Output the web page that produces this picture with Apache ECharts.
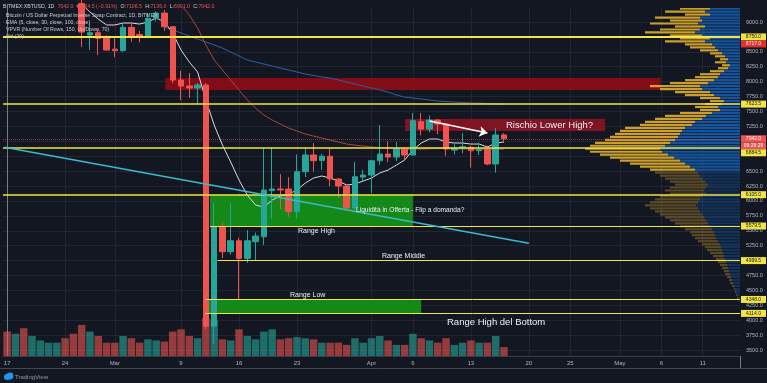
<!DOCTYPE html>
<html>
<head>
<meta charset="utf-8">
<script src="https://cdn.jsdelivr.net/npm/echarts@6.0.0/dist/echarts.min.js"></script>
<style>
html, body { margin: 0; padding: 0; background: #131722; }
#chart { width: 767px; height: 383px; }
</style>
</head>
<body>
<div id="chart"></div>
<script>
// giorni contati dal 17 feb 2020 (giorno 0)
const tickDays = [0, 7, 13, 21, 28, 35, 44, 49, 56, 63, 68, 74, 79, 84];
const tickLabels = ['17', '24', 'Mar', '9', '16', '23', 'Apr', '6', '13', '20', '25', 'May', '6', '11'];

const priceTicks = [3500, 3750, 4000, 4250, 4500, 4750, 5000, 5250, 5500, 5750, 6000, 6250, 6500, 6750, 7000, 7250, 7500, 7750, 8000, 8250, 8500, 8750, 9000];
const priceLabels = [3500, 3750, 4000, 4250, 4500, 4750, 5250, 5500, 5750, 6000, 6250, 6500, 7250, 7500, 7750, 8000, 8250, 8500, 9000];

// candele dal 26 feb: [open, close, low, high]
const firstCandleDay = 9;
const candles = [
    [9310, 8832, 8580, 9380], [8782, 8820, 8530, 8980], [8820, 8727, 8447, 8880], [8727, 8530, 8520, 8780],
    [8545, 8520, 8410, 8750], [8520, 8911, 8500, 8978], [8911, 8754, 8670, 8990], [8790, 8765, 8660, 8850],
    [8765, 9062, 8740, 9150], [9062, 9150, 9010, 9180], [9150, 8921, 8850, 9200], [8921, 8027, 7975, 8930],
    [8027, 7927, 7690, 8180], [7927, 7893, 7725, 8145], [7893, 7944, 7608, 7980], [7944, 3900, 3850, 7980],
    [3900, 5567, 3600, 5970], [5567, 5148, 5042, 5640], [5148, 5332, 5100, 5964], [5332, 5037, 4338, 5380],
    [5037, 5332, 4960, 5512], [5316, 5411, 5009, 5470], [5400, 6183, 5260, 6887], [6175, 6200, 5700, 6900],
    [6200, 6185, 5860, 6450], [6200, 5820, 5735, 6400], [5820, 6490, 5700, 6780], [6490, 6770, 6400, 6887],
    [6770, 6675, 6490, 6970], [6680, 6750, 6520, 6790], [6750, 6367, 6250, 6880], [6367, 6250, 6048, 6380],
    [6250, 5880, 5860, 6270], [5880, 6406, 5860, 6657], [6400, 6434, 6330, 6520], [6434, 6674, 6132, 6690],
    [6674, 6786, 6600, 7273], [6786, 6736, 6650, 7000], [6736, 6870, 6670, 6990], [6870, 6770, 6680, 6880],
    [6770, 7345, 6770, 7474], [7328, 7206, 7100, 7474], [7206, 7356, 7150, 7430], [7356, 7290, 7120, 7370],
    [7290, 6870, 6750, 7300], [6853, 6887, 6780, 6950], [6887, 6910, 6800, 7140], [6900, 6843, 6560, 6920],
    [6843, 6860, 6770, 6980], [6870, 6620, 6600, 6930], [6620, 7105, 6473, 7222], [7106.5, 7042, 6991, 7136]
];

// volumi dal 17 feb (unita arbitrarie), 1 = barra verde
const volumes = [22, 20, 25, 18, 14, 12, 12, 16, 20, 28, 22, 18, 12, 12, 18, 16, 12, 15, 14, 13, 22, 24, 18, 16, 34, 32,
    15, 14, 24, 18, 15, 22, 24, 15, 16, 17, 16, 15, 12, 12, 12, 10, 16, 12, 16, 18, 14, 10, 10, 20, 16, 14, 12, 16, 10,
    12, 14, 12, 12, 18, 8];
const volumeUp = [0, 1, 0, 1, 1, 1, 1, 0, 0, 0, 1, 0, 0, 0, 1, 0, 0, 1, 1, 0, 0, 0, 0, 1, 0, 1,
    0, 1, 0, 1, 1, 1, 1, 0, 0, 1, 1, 0, 1, 0, 0, 0, 1, 1, 1, 1, 0, 1, 0, 1, 0, 1, 0, 0, 1,
    1, 0, 1, 0, 1, 0];

// medie mobili
const ema5Start = 9;
const ema5 = [9300, 9168, 9050, 8950, 8950, 8983, 8983, 8966, 9000, 9067, 9000, 8816, 8530, 8329, 8162, 7692, 7273,
    6937, 6652, 6350, 6099, 5931, 5898, 6015, 6082, 6116, 6183, 6300, 6384, 6418, 6384, 6334, 6267, 6283, 6334,
    6384, 6468, 6518, 6602, 6686, 6853, 6971, 7038, 7038, 6988, 6971, 6971, 6954, 6954, 6904, 6971, 6988];
const ema30Start = 20;
const ema30 = [9450, 9285, 9117, 8899, 8614, 8363, 8195, 8027, 7860, 7692, 7558, 7440, 7357, 7289, 7222, 7172, 7122,
    7088, 7055, 7021, 6988, 6954, 6937, 6920, 6904, 6895, 6887, 6878, 6870, 6868, 6870, 6875, 6880, 6878, 6875,
    6872, 6870, 6868, 6862, 6866, 6870];
const ema100Start = 19;
const ema100 = [8916, 8866, 8816, 8765, 8715, 8665, 8614, 8564, 8497, 8430, 8363, 8329, 8296, 8262, 8229, 8195, 8162,
    8128, 8103, 8078, 8061, 8027, 7994, 7960, 7927, 7893, 7860, 7826, 7776, 7742, 7725, 7709, 7692, 7675, 7667,
    7658, 7650, 7642, 7640, 7633, 7625, 7625];

// profilo volumi (VPVR): righe da 50 dall'alto, volume up / down
const vpTop = 9250;
const vpStep = 50;
const valueAreaLow = 6500;
const vpUp = [30, 35, 30, 40, 38, 42, 35, 40, 45, 38, 30, 35, 28, 25, 22, 18, 15, 12, 14, 10, 12, 16, 20, 22, 26, 32,
    40, 38, 30, 26, 20, 16, 18, 22, 20, 28, 34, 38, 45, 48, 55, 58, 60, 62, 65, 70, 75, 80, 78, 72, 66, 60, 55, 50,
    45, 42, 40, 38, 35, 32, 34, 36, 34, 38, 40, 42, 44, 42, 40, 38, 36, 34, 32, 30, 28, 26, 25, 24, 22, 20, 19, 18,
    17, 16, 15, 14, 13, 12, 11, 10, 9, 8, 7, 6, 5, 4, 3, 2, 2];
const vpDown = [30, 40, 25, 45, 32, 48, 30, 40, 50, 32, 30, 40, 27, 25, 18, 12, 10, 8, 11, 8, 10, 14, 20, 23, 29, 38,
    50, 42, 35, 29, 20, 14, 17, 23, 20, 32, 41, 47, 50, 52, 60, 62, 65, 68, 70, 75, 75, 75, 72, 68, 64, 60, 55, 50,
    45, 43, 40, 37, 35, 33, 36, 39, 36, 42, 45, 48, 51, 48, 45, 42, 39, 36, 33, 30, 27, 24, 23, 21, 20, 18, 16, 15,
    13, 11, 9, 8, 7, 6, 5, 5, 4, 3, 3, 2, 1, 1, 1, 1, 0];

// livelli orizzontali disegnati
const levels = [
    { price: 8750, from: null, width: 2 },
    { price: 7623.5, from: null, width: 1.5 },
    { price: 6884.5, from: null, width: 1.5 },
    { price: 6105, from: null, width: 1.5 },
    { price: 5579.5, from: 24.5, width: 1 },
    { price: 4999.5, from: 25.4, width: 1 },
    { price: 4348, from: 23.9, width: 1 },
    { price: 4114, from: 23.9, width: 1 }
];

const UP = '#26a69a', DOWN = '#ef5350', YELLOW = '#f2e442';
const FONT = 'Liberation Sans, Arial, sans-serif';

const chart = echarts.init(document.getElementById('chart'));

const lastDay = 88.5;
const markLines = [];
levels.forEach(l => {
    const style = { color: YELLOW, width: l.width, type: 'solid' };
    if (l.from == null) markLines.push({ yAxis: l.price, lineStyle: style });
    else markLines.push([{ coord: [l.from, l.price], lineStyle: style }, { coord: [lastDay, l.price] }]);
});
markLines.push({ yAxis: 7042, lineStyle: { color: 'rgba(239,83,80,0.6)', width: 1, type: 'dotted' } });
// trendline
markLines.push([{ coord: [-0.3, 6900], lineStyle: { color: '#3db9cc', width: 1.5, type: 'solid' } }, { coord: [63, 5290] }]);
markLines.push([{ coord: [-0.9, 4400], lineStyle: { color: '#3db9cc', width: 1.5, type: 'solid' } }, { coord: [28.6, 3560] }]);
// freccia
markLines.push([{ coord: [51, 7340], symbol: 'none', lineStyle: { color: '#ffffff', width: 1.5, type: 'solid' } },
    { coord: [58, 7138], symbol: 'arrow', symbolSize: 8 }]);

const boxes = [
    [{ coord: [19.1, 8061], itemStyle: { color: 'rgba(150,12,20,0.85)' } }, { coord: [78.9, 7860] }],
    [{ coord: [48.05, 7373], itemStyle: { color: 'rgba(140,20,34,0.9)' } }, { coord: [72.2, 7172] }],
    [{ coord: [24.5, 6105], itemStyle: { color: 'rgba(22,150,22,0.9)' } }, { coord: [49.0, 5579.5] }],
    [{ coord: [23.9, 4348], itemStyle: { color: 'rgba(22,150,22,0.9)' } }, { coord: [50.0, 4114] }]
];

function renderProfileRow(params, api) {
    const top = api.value(0), up = api.value(1), down = api.value(2);
    const bottom = top - vpStep;
    const pTop = api.coord([0, top]);
    const pBot = api.coord([0, bottom]);
    const xUp = api.coord([up, bottom])[0];
    const xAll = api.coord([up + down, bottom])[0];
    const y = pTop[1] + 0.4, h = pBot[1] - pTop[1] - 0.8;
    const dim = bottom < valueAreaLow;
    return {
        type: 'group',
        children: [
            { type: 'rect', shape: { x: xUp, y: y, width: pTop[0] - xUp, height: h },
              style: { fill: dim ? 'rgba(21,101,192,0.35)' : 'rgba(21,101,192,0.8)' } },
            { type: 'rect', shape: { x: xAll, y: y, width: xUp - xAll, height: h },
              style: { fill: dim ? 'rgba(251,192,45,0.3)' : 'rgba(251,192,45,0.8)' } }
        ]
    };
}

const option = {
    backgroundColor: '#131722',
    animation: false,
    textStyle: { fontFamily: FONT },
    grid: [
        { left: 3, right: 27, top: 8, bottom: 27 },
        { left: 3, right: 27, bottom: 27, height: 40 },
        { left: 560, right: 27, top: 8, bottom: 27 }
    ],
    xAxis: [
        {
            type: 'value', gridIndex: 0, min: -0.5, max: lastDay,
            axisLine: { show: true, onZero: false, lineStyle: { color: '#363a45' } },
            axisTick: { show: false, customValues: tickDays },
            axisLabel: { customValues: tickDays, formatter: v => tickLabels[tickDays.indexOf(v)] || '',
                color: '#b2b5be', fontSize: 6, margin: 4, fontFamily: FONT },
            splitLine: { show: true, lineStyle: { color: '#222633', width: 1 } }
        },
        { type: 'value', gridIndex: 1, min: -0.5, max: lastDay, show: false },
        { type: 'value', gridIndex: 2, min: 0, max: 180, inverse: true, show: false }
    ],
    yAxis: [
        {
            type: 'value', gridIndex: 0, position: 'right', min: 3400, max: 9235, scale: true,
            axisLine: { show: true, lineStyle: { color: '#787b86' } },
            axisTick: { show: false, customValues: priceTicks },
            axisLabel: { customValues: priceLabels, formatter: v => v.toFixed(1), color: '#b2b5be',
                fontSize: 5.5, margin: 6, fontFamily: FONT },
            splitLine: { show: true, lineStyle: { color: '#222633', width: 1 } }
        },
        { type: 'value', gridIndex: 1, min: 0, max: 36, show: false },
        { type: 'value', gridIndex: 2, min: 3400, max: 9235, show: false }
    ],
    series: [
        {
            type: 'bar', xAxisIndex: 1, yAxisIndex: 1, barWidth: 7.5, z: 1,
            data: volumes.map((v, d) => ({ value: [d, v], itemStyle: { color: volumeUp[d] ? 'rgba(38,166,154,0.6)' : 'rgba(239,83,80,0.6)' } }))
        },
        {
            type: 'line', xAxisIndex: 0, yAxisIndex: 0, data: [], z: 1, silent: true,
            markArea: { silent: true, data: boxes }
        },
        {
            type: 'custom', xAxisIndex: 2, yAxisIndex: 2, z: 2, clip: true, silent: true,
            renderItem: renderProfileRow,
            data: vpUp.map((u, i) => [vpTop - i * vpStep, u, vpDown[i]])
        },
        {
            type: 'line', xAxisIndex: 0, yAxisIndex: 0, z: 3, symbol: 'none', clip: true,
            lineStyle: { color: '#2f5fa8', width: 1 },
            data: ema100.map((v, i) => [ema100Start + i, v])
        },
        {
            type: 'line', xAxisIndex: 0, yAxisIndex: 0, z: 3, symbol: 'none', clip: true,
            lineStyle: { color: '#a5493c', width: 1 },
            data: ema30.map((v, i) => [ema30Start + i, v])
        },
        {
            type: 'line', xAxisIndex: 0, yAxisIndex: 0, z: 3, symbol: 'none', clip: true,
            lineStyle: { color: '#d8dbe3', width: 1 },
            data: ema5.map((v, i) => [ema5Start + i, v])
        },
        {
            type: 'candlestick', xAxisIndex: 0, yAxisIndex: 0, z: 4, barWidth: 6, clip: true,
            encode: { x: 0, y: [1, 2, 3, 4] },
            itemStyle: { color: UP, color0: DOWN, borderColor: UP, borderColor0: DOWN, borderWidth: 1 },
            data: candles.map((c, i) => [firstCandleDay + i, c[0], c[1], c[2], c[3]]),
            markLine: { silent: true, symbol: 'none', label: { show: false }, animation: false, data: markLines }
        }
    ]
};
chart.setOption(option);

// etichette prezzo sull'asse destro
const tags = [
    { text: '8750.0', price: 8750, bg: YELLOW, fg: '#131722' },
    { text: '8717.0', price: 8717, bg: '#e0312f', fg: '#ffffff' },
    { text: '7623.5', price: 7623.5, bg: YELLOW, fg: '#131722' },
    { text: '7042.0', price: 7042, bg: '#ef5350', fg: '#ffffff' },
    { text: '09:29:29', price: 7042, bg: '#ef5350', fg: '#ffffff' },
    { text: '6884.5', price: 6884.5, bg: YELLOW, fg: '#131722' },
    { text: '6105.0', price: 6105, bg: YELLOW, fg: '#131722' },
    { text: '5579.5', price: 5579.5, bg: YELLOW, fg: '#131722' },
    { text: '4999.5', price: 4999.5, bg: YELLOW, fg: '#131722' },
    { text: '4348.0', price: 4348, bg: YELLOW, fg: '#131722' },
    { text: '4114.0', price: 4114, bg: YELLOW, fg: '#131722' }
];
const tagH = 7;
const placed = tags.map(t => Object.assign({}, t, { y: chart.convertToPixel({ yAxisIndex: 0 }, t.price) }));
for (let i = 1; i < placed.length; i++) {
    if (placed[i].y - placed[i - 1].y < tagH) placed[i].y = placed[i - 1].y + tagH;
}

const graphics = [];
placed.forEach(t => {
    graphics.push({
        type: 'group', z: 100,
        children: [
            { type: 'rect', shape: { x: 741, y: t.y - tagH / 2, width: 25, height: tagH }, style: { fill: t.bg } },
            { type: 'text', x: 753.5, y: t.y, style: { text: t.text, fill: t.fg, fontSize: 5, fontFamily: FONT,
                align: 'center', verticalAlign: 'middle' } }
        ]
    });
});

// intestazione e legenda
graphics.push({
    type: 'text', left: 3, top: 1, z: 100,
    style: {
        text: '{w|BITMEX:XBTUSD, 1D} {r|7042.0 ▼ −64.5 (−0.91%)} {w|O:}{r|7106.5} {w|H:}{r|7136.0} {w|L:}{r|6991.0} {w|C:}{r|7042.0}',
        fontFamily: FONT,
        rich: { w: { fill: '#d1d4dc', fontSize: 5.2, fontFamily: FONT }, r: { fill: '#ef5350', fontSize: 5.2, fontFamily: FONT } }
    }
});
const legendLines = [
    'Bitcoin / US Dollar Perpetual Inverse Swap Contract, 1D, BITMEX',
    'EMA (5, close, 30, close, 100, close)',
    'VPVR (Number Of Rows, 150, Up/Down, 70)',
    'Vol (20)'
];
legendLines.forEach((s, i) => graphics.push({
    type: 'text', left: 6, top: 13 + i * 7, z: 100,
    style: { text: s, fill: '#c8cbd3', fontSize: 5.2, fontFamily: FONT }
}));

// annotazioni
const notes = [
    { text: 'Rischio Lower High?', x: 506, y: 125, size: 9.5 },
    { text: 'Liquidità in Offerta - Flip a domanda?', x: 356, y: 210, size: 6.6 },
    { text: 'Range High', x: 298, y: 231, size: 7 },
    { text: 'Range Middle', x: 382, y: 256, size: 7 },
    { text: 'Range Low', x: 290, y: 295, size: 7 },
    { text: 'Range High del Bottom', x: 447, y: 322, size: 9.5 }
];
notes.forEach(n => graphics.push({
    type: 'text', x: n.x, y: n.y, z: 90,
    style: { text: n.text, fill: '#eceff4', fontSize: n.size, fontFamily: FONT, verticalAlign: 'middle' }
}));

// bordo inferiore e logo
graphics.push({ type: 'line', z: 50, shape: { x1: 0, y1: 368.5, x2: 767, y2: 368.5 }, style: { stroke: '#434651', lineWidth: 1 } });
graphics.push({ type: 'line', z: 50, shape: { x1: 740.5, y1: 356, x2: 740.5, y2: 368 }, style: { stroke: '#787b86', lineWidth: 1 } });
graphics.push({ type: 'circle', z: 50, shape: { cx: 7, cy: 377, r: 3 }, style: { fill: '#2196f3' } });
graphics.push({ type: 'circle', z: 50, shape: { cx: 10, cy: 376, r: 3.4 }, style: { fill: '#2196f3' } });
graphics.push({
    type: 'text', x: 15, y: 377, z: 50,
    style: { text: 'TradingView', fill: '#9598a1', fontSize: 6, fontFamily: FONT, verticalAlign: 'middle' }
});

chart.setOption({ graphic: graphics });
</script>
</body>
</html>
